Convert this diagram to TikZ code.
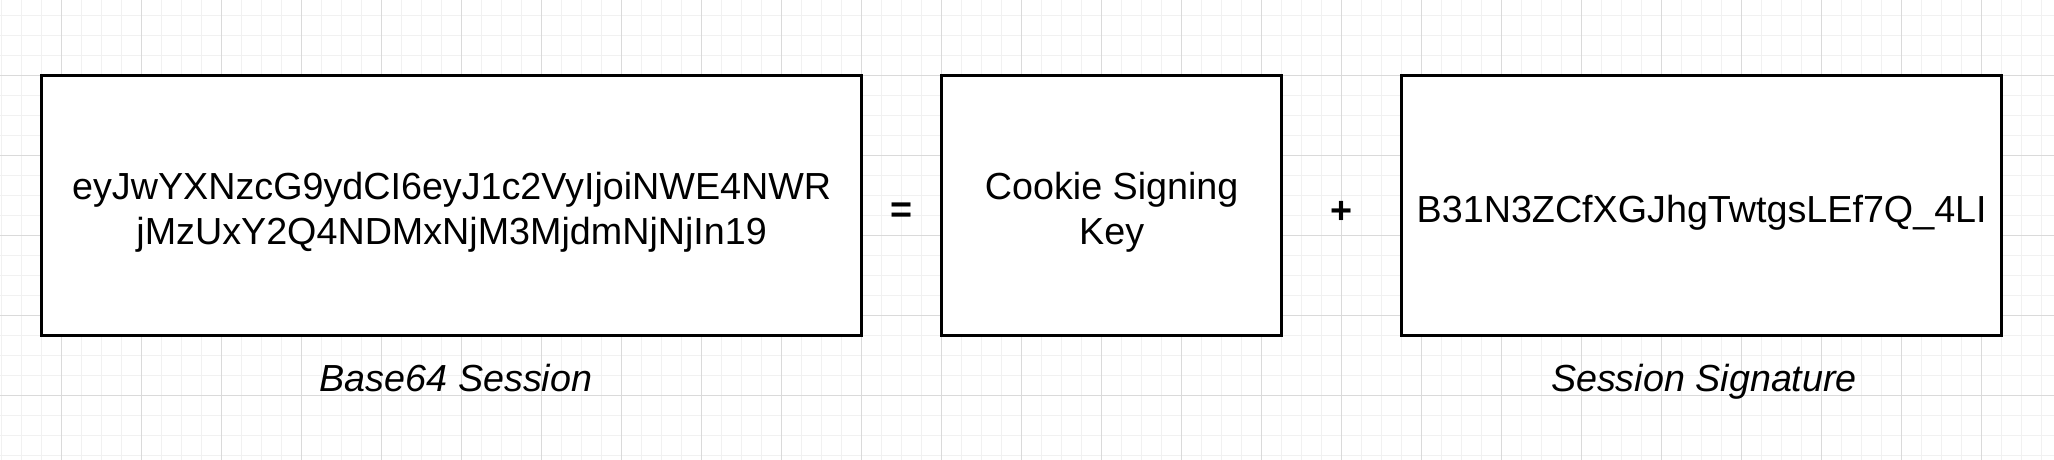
\documentclass[tikz,border=0pt]{standalone}
\usepackage{fontspec}
\setmainfont{Liberation Sans}
\definecolor{gridminor}{HTML}{F1F1F1}
\definecolor{gridmajor}{HTML}{DADADA}
\begin{document}
\begin{tikzpicture}[x=0.5pt,y=-0.5pt,
  minorline/.style={draw=gridminor, line width=0.5pt},
  majorline/.style={draw=gridmajor, line width=0.5pt},
  box/.style={draw=black, line width=1.55pt, fill=white, inner sep=0pt,
    minimum height=130pt},
  boxtext/.style={inner sep=0pt, align=center, yshift=-3.5pt,
    font=\fontsize{18.85}{22.3}\selectfont},
  lbl/.style={inner sep=0pt, anchor=base, font=\fontsize{18.85}{22.3}\selectfont\itshape},
  op/.style={inner sep=0pt, anchor=base, font=\fontsize{18.85}{22.3}\selectfont\bfseries}]
\fill[white] (0,0) rectangle (2054,460);
\useasboundingbox (0,0) rectangle (2054,460);
% grid
\foreach \x in {1.7,21.7,...,2054} \draw[minorline] (\x,0) -- (\x,460);
\foreach \y in {15.3,35.3,...,460} \draw[minorline] (0,\y) -- (2054,\y);
\foreach \x in {61.7,141.7,...,2054} \draw[majorline] (\x,0) -- (\x,460);
\foreach \y in {75.3,155.3,...,460} \draw[majorline] (0,\y) -- (2054,\y);
% boxes
\node[box, minimum width=410pt,
  label={[boxtext]center:eyJwYXNzcG9ydCI6eyJ1c2VyIjoiNWE4NWR\\jMzUxY2Q4NDMxNjM3MjdmNjNjIn19}]
  (session) at (451.7,205.3) {};
\node[box, minimum width=170pt,
  label={[boxtext]center:Cookie Signing\\Key}] (key) at (1111.7,205.3) {};
\node[box, minimum width=300pt,
  label={[boxtext]center:B31N3ZCfXGJhgTwtgsLEf7Q\_4LI}] (sig) at (1701.7,205.3) {};
% operators
\node[op] (eq) at (901.5,222.5) {=};
\node[op] (plus) at (1341.5,223.5) {+};
% labels
\node[lbl] (l1) at (456,391.7) {Base64 Session};
\node[lbl] (l2) at (1704,391.7) {Session Signature};
\end{tikzpicture}
\end{document}
